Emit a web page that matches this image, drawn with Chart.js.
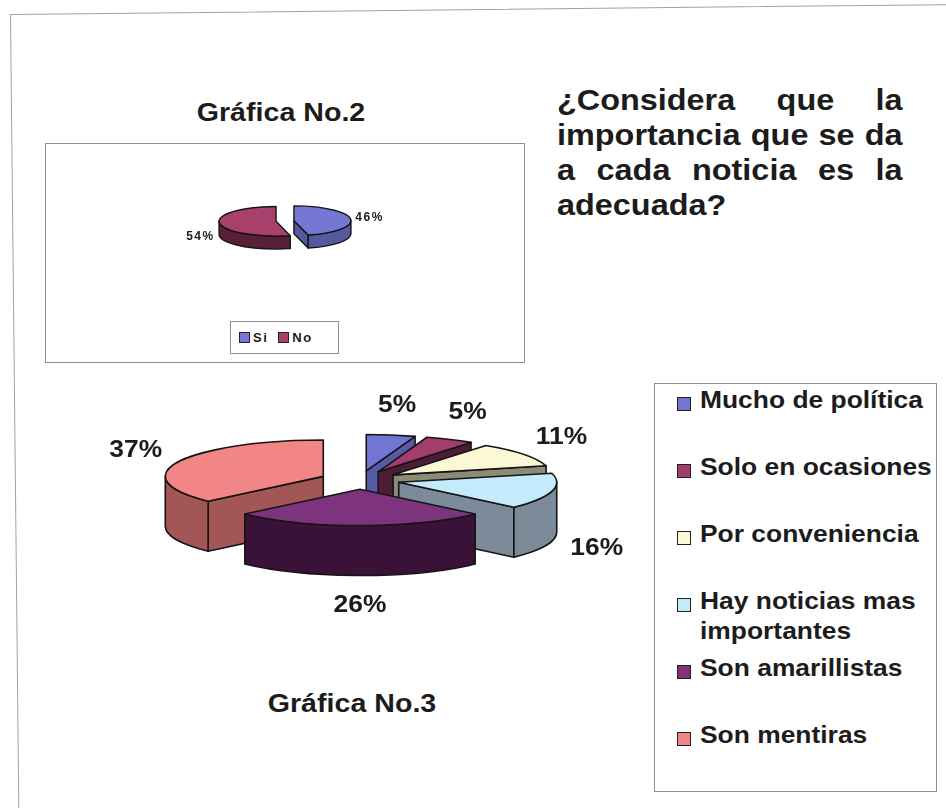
<!DOCTYPE html>
<html>
<head>
<meta charset="utf-8">
<script src="https://cdn.jsdelivr.net/npm/chart.js@4/dist/chart.umd.min.js"></script>
<style>
  body { margin: 0; width: 946px; height: 808px; background: #fff; position: relative; overflow: hidden;
         font-family: "Liberation Sans", Arial, sans-serif; font-weight: bold; color: #1c1c1c; }
  .abs { position: absolute; }
  #frame { left: 10px; top: 14px; width: 960px; height: 820px; border: 1.5px solid #a2a2a2;
           transform: rotate(-0.6deg); transform-origin: 0 0; }
  .title { font-size: 26px; line-height: 30px; width: 260px; text-align: center; transform: scaleX(1.1); }
  #question { left: 557px; top: 82px; width: 320px; font-size: 30px; line-height: 35px; text-align: justify;
              transform: scaleX(1.08); transform-origin: 0 0; }
  .box { border: 1px solid #8f8f8f; box-sizing: border-box; }
  .wrap canvas { display: block; }
  #legend2 { left: 230px; top: 321px; width: 109px; height: 33px; display: flex; align-items: center;
             padding-left: 8px; gap: 10px; font-size: 13px; letter-spacing: 1.5px; }
  #legend2 span.sq { display: inline-block; width: 9px; height: 9px; border: 1px solid #222; margin-right: 3px;
                     vertical-align: -1px; }
  .item { left: 677px; width: 260px; height: 64px; }
  .item .sq { position: absolute; left: 0; top: 12px; width: 12px; height: 12px; border: 1px solid #222; }
  .item .tx { position: absolute; left: 23px; top: 0; width: 215px; font-size: 24px; line-height: 30px;
              transform: scaleX(1.1); transform-origin: 0 0; }
</style>
</head>
<body>
<div id="frame" class="abs"></div>

<div class="abs title" style="left:151px; top:97px;">Gráfica No.2</div>
<div class="abs box" style="left:45px; top:143px; width:480px; height:220px;"></div>
<div class="abs wrap" style="left:135px; top:161px; width:300px; height:120px;"><canvas id="pie2"></canvas></div>
<div id="legend2" class="abs box"></div>

<div id="question" class="abs">¿Considera que la importancia que se da a cada noticia es la adecuada?</div>

<div class="abs wrap" style="left:80px; top:330px; width:560px; height:300px;"><canvas id="pie3"></canvas></div>
<div class="abs title" style="left:222px; top:688px;">Gráfica No.3</div>
<div class="abs box" style="left:654px; top:383px; width:283px; height:409px;"></div>
<div id="legend3"></div>

<script>
// Gráfica No.2
const labels2 = ['Si', 'No'];
const values2 = [46, 54];
const tops2 = ['#7478d4', '#a8406c'];
const sides2 = ['#5559a0', '#5a1f38'];

// Gráfica No.3
const labels3 = ['Mucho de política', 'Solo en ocasiones', 'Por conveniencia',
                 'Hay noticias mas importantes', 'Son amarillistas', 'Son mentiras'];
const values3 = [5, 5, 11, 16, 26, 37];
const tops3 = ['#7276d2', '#a33d6b', '#fbf8d6', '#c4ebfb', '#7d347d', '#f28585'];
const sides3 = ['#575ba3', '#4f1c35', '#8c8b78', '#7c8b99', '#3a1238', '#a25656'];

// side faces of one exploded slice (tilted ellipse + depth)
function drawSides(ctx, s, o) {
  const a0 = s.p.startAngle, a1 = s.p.endAngle, d = o.depth;
  ctx.fillStyle = o.sideColors[s.i];
  const radial = a => {
    const x = s.cx + s.rx * Math.cos(a), y = s.cy + s.ry * Math.sin(a);
    ctx.beginPath();
    ctx.moveTo(s.cx, s.cy); ctx.lineTo(x, y); ctx.lineTo(x, y + d); ctx.lineTo(s.cx, s.cy + d);
    ctx.closePath(); ctx.fill(); ctx.stroke();
  };
  if (Math.cos(a0) < 0) radial(a0);
  if (Math.cos(a1) > 0) radial(a1);
  const b0 = Math.max(a0, 0), b1 = Math.min(a1, Math.PI);
  if (b1 > b0) {
    ctx.beginPath();
    ctx.ellipse(s.cx, s.cy, s.rx, s.ry, 0, b0, b1);
    ctx.ellipse(s.cx, s.cy + d, s.rx, s.ry, 0, b1, b0, true);
    ctx.closePath(); ctx.fill(); ctx.stroke();
  }
}

const pie3d = {
  id: 'pie3d',
  beforeDatasetsDraw(chart, args, o) {
    const ctx = chart.ctx;
    const parts = chart.getDatasetMeta(0).data.map((el, i) => {
      const p = el.getProps(['x', 'y', 'startAngle', 'endAngle', 'outerRadius'], true);
      const mid = (p.startAngle + p.endAngle) / 2;
      return { el, i, p, mid,
        cx: p.x + Math.cos(mid) * o.explode,
        cy: p.y + Math.sin(mid) * o.explode * o.tilt,
        rx: p.outerRadius, ry: p.outerRadius * o.tilt };
    });
    chart.$parts = parts;
    ctx.save();
    ctx.strokeStyle = '#151515';
    ctx.lineWidth = o.edge;
    ctx.lineJoin = 'round';
    parts.slice().sort((a, b) => Math.sin(a.mid) - Math.sin(b.mid)).forEach(s => {
      drawSides(ctx, s, o);
      ctx.save();
      ctx.translate(s.cx, s.cy);
      ctx.scale(1, o.tilt);
      ctx.translate(-s.p.x, -s.p.y);
      s.el.draw(ctx);
      ctx.restore();
      ctx.beginPath();
      ctx.moveTo(s.cx, s.cy);
      ctx.ellipse(s.cx, s.cy, s.rx, s.ry, 0, s.p.startAngle, s.p.endAngle);
      ctx.closePath();
      ctx.stroke();
    });
    ctx.restore();
    return false;
  },
  afterDraw(chart, args, o) {
    const ctx = chart.ctx;
    const data = chart.data.datasets[0].data;
    const total = data.reduce((a, b) => a + b, 0);
    ctx.save();
    ctx.font = 'bold ' + o.fontSize + 'px "Liberation Sans", Arial, sans-serif';
    ctx.letterSpacing = o.spacing || '0px';
    ctx.fillStyle = '#1c1c1c';
    ctx.textAlign = 'center';
    ctx.textBaseline = 'middle';
    (chart.$parts || []).forEach(s => {
      const txt = Math.round(data[s.i] / total * 100) + '%';
      const w = ctx.measureText(txt).width * o.stretch;
      const c = Math.cos(s.mid), sn = Math.sin(s.mid);
      const x = s.cx + c * (s.rx + o.gap + w / 2);
      const y = s.cy + sn * (s.ry + o.gapY) + (sn > 0 ? o.depth : 0);
      ctx.save();
      ctx.translate(x, y);
      ctx.scale(o.stretch, 1);
      ctx.fillText(txt, 0, 0);
      ctx.restore();
    });
    ctx.restore();
  }
};

function makePie(id, labels, values, tops, radius, opts) {
  return new Chart(document.getElementById(id), {
    type: 'pie',
    data: {
      labels: labels,
      datasets: [{ data: values, backgroundColor: tops, borderWidth: 0, radius: radius }]
    },
    options: {
      responsive: true,
      maintainAspectRatio: false,
      animation: false,
      events: [],
      layout: { padding: 0 },
      plugins: { legend: { display: false }, tooltip: { enabled: false }, pie3d: opts }
    },
    plugins: [pie3d]
  });
}

makePie('pie2', labels2, values2, tops2, 57,
  { tilt: 0.26, depth: 13, explode: 9, edge: 1.4, sideColors: sides2,
    fontSize: 12, stretch: 1.0, spacing: '1.5px', gap: 5, gapY: 8 });

makePie('pie3', labels3, values3, tops3, 158,
  { tilt: 0.23, depth: 50, explode: 40, edge: 1.6, sideColors: sides3,
    fontSize: 24, stretch: 1.1, gap: 20, gapY: 30 });

// legends
const lg2 = document.getElementById('legend2');
labels2.forEach((l, i) => {
  const d = document.createElement('span');
  d.innerHTML = '<span class="sq" style="background:' + tops2[i] + '"></span>' + l;
  lg2.appendChild(d);
});

const lg3 = document.getElementById('legend3');
labels3.forEach((l, i) => {
  const d = document.createElement('div');
  d.className = 'abs item';
  d.style.top = (385 + i * 67) + 'px';
  d.innerHTML = '<div class="sq" style="background:' + tops3[i] + '"></div><div class="tx">' + l + '</div>';
  lg3.appendChild(d);
});
</script>
</body>
</html>
